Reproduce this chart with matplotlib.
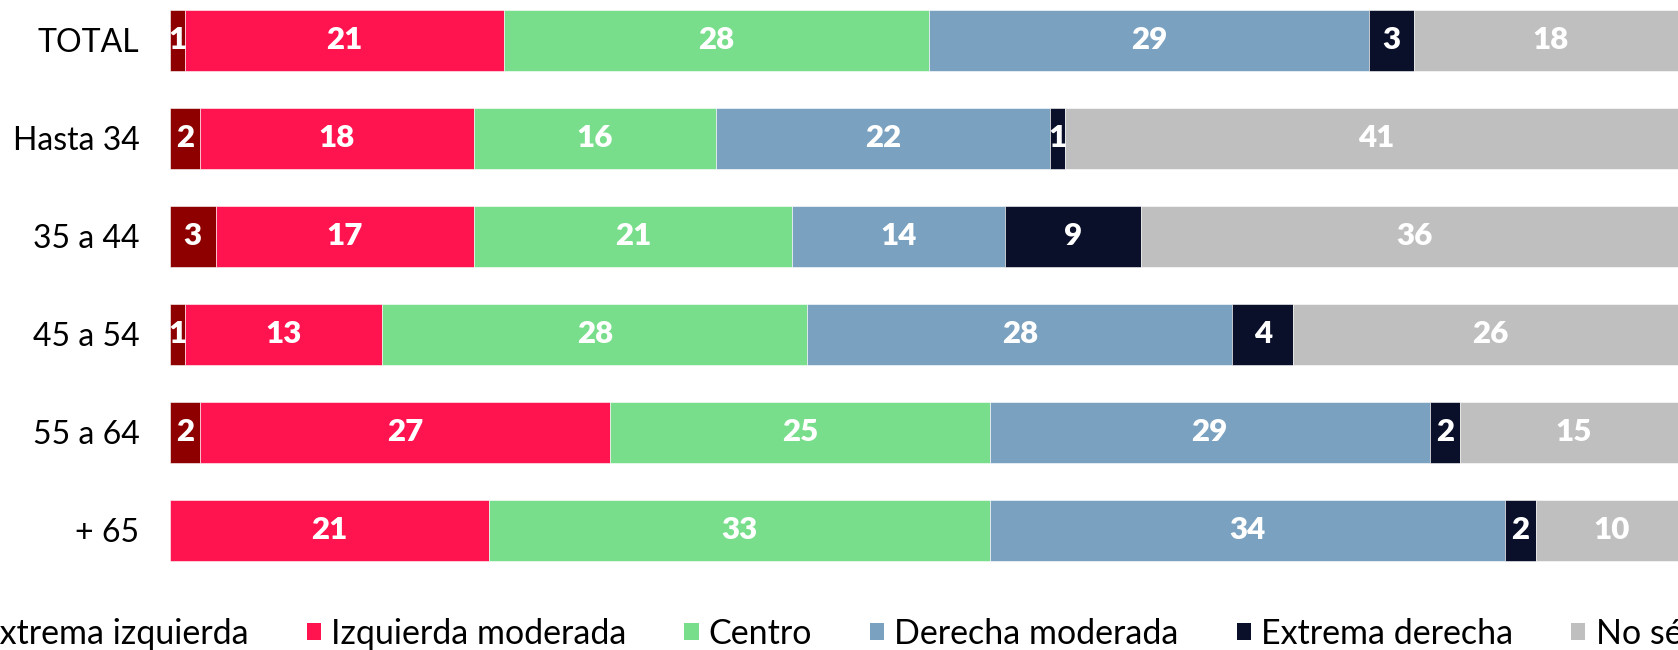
import matplotlib
matplotlib.use("Agg")
import matplotlib.pyplot as plt
from matplotlib.patches import Patch
import numpy as np

plt.rcParams["font.family"] = ["Lato", "DejaVu Sans"]

groups = ["TOTAL", "Hasta 34", "35 a 44", "45 a 54", "55 a 64", "+ 65"]
series = ["Extrema izquierda", "Izquierda moderada", "Centro",
          "Derecha moderada", "Extrema derecha", "No sé"]
extrema_izquierda = [1, 2, 3, 1, 2, 0]
izquierda_moderada = [21, 18, 17, 13, 27, 21]
centro = [28, 16, 21, 28, 25, 33]
derecha_moderada = [29, 22, 14, 28, 29, 34]
extrema_derecha = [3, 1, 9, 4, 2, 2]
no_se = [18, 41, 36, 26, 15, 10]

colors = ["#8e0000", "#ff1450", "#78de8c", "#7aa2c0", "#0a0f2a", "#bfbfbf"]
values = [extrema_izquierda, izquierda_moderada, centro,
          derecha_moderada, extrema_derecha, no_se]

fig = plt.figure(figsize=(16.78, 6.5), dpi=100)
ax = fig.add_axes([0.1013, 0.109, 0.899, 0.891])

y = np.arange(len(groups))
left = np.zeros(len(groups))
for name, vals, col in zip(series, values, colors):
    vals = np.array(vals, dtype=float)
    bars = ax.barh(y, vals, left=left, height=0.62, color=col,
                   edgecolor="white", linewidth=0.4, label=name)
    for b, v in zip(bars, vals):
        if v > 0:
            ax.text(b.get_x() + b.get_width() / 2, b.get_y() + b.get_height() / 2,
                    f"{int(v)}", ha="center", va="center", color="white",
                    fontsize=22.5, fontweight="heavy")
    left += vals

ax.set_xlim(0, 99.4)
ax.set_ylim(5.5, -0.413)
ax.set_yticks(y)
ax.set_yticklabels(groups, fontsize=23)
ax.tick_params(axis="y", length=0, pad=22)
ax.set_xticks([])
for s in ax.spines.values():
    s.set_visible(False)

# legend runs past the left edge in the original too
handles = [Patch(facecolor=c, edgecolor="none") for c in colors]
fig.legend(handles, series, loc="center left", bbox_to_anchor=(-0.0265, 0.025),
           ncol=6, frameon=False, fontsize=24.5, borderpad=0, borderaxespad=0,
           handlelength=0.42, handleheight=0.42, handletextpad=0.3,
           columnspacing=1.7)

fig.savefig("out.png", dpi=100)
